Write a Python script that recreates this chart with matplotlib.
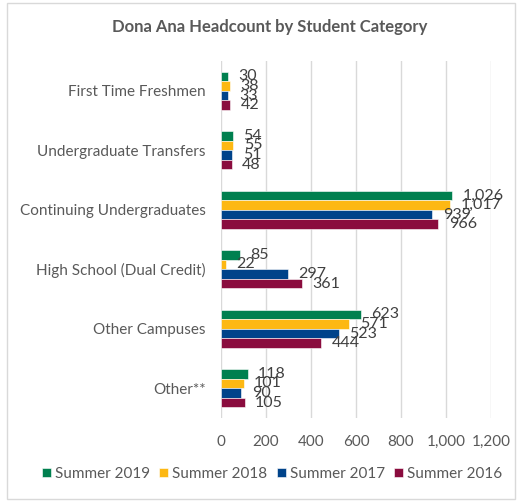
import matplotlib
matplotlib.use("Agg")
import matplotlib.pyplot as plt
from matplotlib.patches import Rectangle
import numpy as np

plt.rcParams['font.family'] = ['Lato', 'DejaVu Sans']

categories = ["First Time Freshmen", "Undergraduate Transfers", "Continuing Undergraduates",
              "High School (Dual Credit)", "Other Campuses", "Other**"]
series_names = ["Summer 2019", "Summer 2018", "Summer 2017", "Summer 2016"]
summer_2019 = [30, 54, 1026, 85, 623, 118]
summer_2018 = [38, 55, 1017, 22, 571, 101]
summer_2017 = [33, 51, 939, 297, 523, 90]
summer_2016 = [42, 48, 966, 361, 444, 105]
series_values = [summer_2019, summer_2018, summer_2017, summer_2016]
colors = ["#00804F", "#FDB813", "#00438A", "#8A0C3E"]
xticks = [0, 200, 400, 600, 800, 1000, 1200]

fig = plt.figure(figsize=(5.22, 5.01), dpi=100)
fig.patches.append(Rectangle((7/522, 2/501), 508/522, 496/501, transform=fig.transFigure,
                             fill=False, edgecolor="#d9d9d9", linewidth=1))
ax = fig.add_axes([221/522, 1-418/501, 270/522, 357/501])

y = np.arange(len(categories))
h = 0.16
for i, (name, vals, c) in enumerate(zip(series_names, series_values, colors)):
    pos = y + (i - 1.5) * h
    ax.barh(pos, vals, height=h, color=c, label=name, edgecolor="white", linewidth=0.4, zorder=3)
    for p, v in zip(pos, vals):
        ax.annotate(f"{v:,}", xy=(v, p), xytext=(7.5, 0), textcoords="offset points",
                    va="center", ha="left", fontsize=11.5, color="#404040", zorder=4)

ax.set_ylim(len(categories) - 0.5, -0.5)
ax.set_xlim(0, 1200)
ax.set_xticks(xticks)
ax.set_xticklabels([f"{t:,}" for t in xticks], fontsize=11, color="#595959")
ax.set_yticks(y)
ax.set_yticklabels(categories, fontsize=11, color="#595959")
ax.tick_params(axis="y", length=0, pad=11)
ax.tick_params(axis="x", length=0, pad=12)
ax.grid(axis="x", color="#d9d9d9", linewidth=1, zorder=0)
for s in ax.spines.values():
    s.set_visible(False)

fig.text(270/522, 1-27/501, "Dona Ana Headcount by Student Category", ha="center", va="center",
         fontsize=12, fontweight="bold", color="#595959")

handles, labels = ax.get_legend_handles_labels()
fig.legend(handles, labels, loc="center", bbox_to_anchor=(272/522, 1-474/501), ncol=4,
           frameon=False, fontsize=11, handlelength=0.6, handleheight=0.6, handletextpad=0.25,
           columnspacing=0.6, labelcolor="#595959")

fig.savefig("out.png", dpi=100)
